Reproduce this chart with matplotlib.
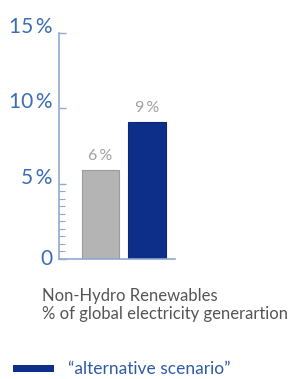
import matplotlib
matplotlib.use("Agg")
import matplotlib.pyplot as plt
from matplotlib.patches import Rectangle
from matplotlib.ticker import FixedLocator

plt.rcParams['font.family'] = ['Lato', 'DejaVu Sans']

categories = ["current", "alternative scenario"]
values = [5.9, 9.1]
value_labels = ["6\u2009%", "9\u2009%"]
bar_colors = ["#b4b4b4", "#0d2f8a"]
bar_edges = ["#9c9c9c", "#0a2878"]
yticks = [0, 5, 10, 15]
ytick_labels = ["0", "5\u2009%", "10\u2009%", "15\u2009%"]
minor_ticks = [0.5, 1, 1.5, 2, 2.5, 3, 3.5, 4, 4.5]
title_lines = ["Non-Hydro Renewables", "% of global electricity generartion"]
legend_label = "\u201calternative scenario\u201d"

W, H = 304, 379
fig = plt.figure(figsize=(W / 100, H / 100), dpi=100)
fig.patch.set_facecolor("white")

x0, x1 = 59, 175
y0, y1 = 259, 33
ax = fig.add_axes([x0 / W, 1 - y0 / H, (x1 - x0) / W, (y0 - y1) / H])

axis_col = "#8fa9d0"
tick_col = "#3a6db4"

pos = list(range(len(categories)))
ax.bar(pos, values, width=0.8, color=bar_colors, edgecolor=bar_edges, linewidth=0.8, zorder=2)
for p, v, lab in zip(pos, values, value_labels):
    ax.text(p, v + 0.45, lab, ha="center", va="bottom", fontsize=11.5, color="#a0a0a0")

ax.set_xlim(-0.89, 1.6)
ax.set_ylim(0, 15)
ax.set_xticks([])
ax.set_yticks(yticks)
ax.set_yticklabels(ytick_labels)
ax.yaxis.set_minor_locator(FixedLocator(minor_ticks))
ax.tick_params(axis="y", which="major", direction="in", length=5, width=1, color=axis_col,
               labelsize=15, labelcolor=tick_col, pad=5)
ax.tick_params(axis="y", which="minor", direction="in", length=4, width=0.8, color=axis_col)
for lab in ax.get_yticklabels():
    lab.set_va("center" if lab.get_text() == "0" else "baseline")
for s in ["top", "right"]:
    ax.spines[s].set_visible(False)
for s in ["left", "bottom"]:
    ax.spines[s].set_color(axis_col)
    ax.spines[s].set_linewidth(1.2)
ax.patch.set_alpha(0)

fig.text(42 / W, 1 - 301 / H, title_lines[0], fontsize=12, color="#555555", va="baseline", ha="left")
fig.text(42 / W, 1 - 319 / H, title_lines[1], fontsize=12, color="#555555", va="baseline", ha="left")

fig.patches.append(Rectangle((13 / W, 1 - 372 / H), 41 / W, 7 / H, transform=fig.transFigure,
                             facecolor=bar_colors[1], edgecolor="none"))
fig.text(68 / W, 1 - 374 / H, legend_label, fontsize=12.5, color="#2f5aa8", va="baseline", ha="left")

fig.savefig("out.png", dpi=100, facecolor="white")
